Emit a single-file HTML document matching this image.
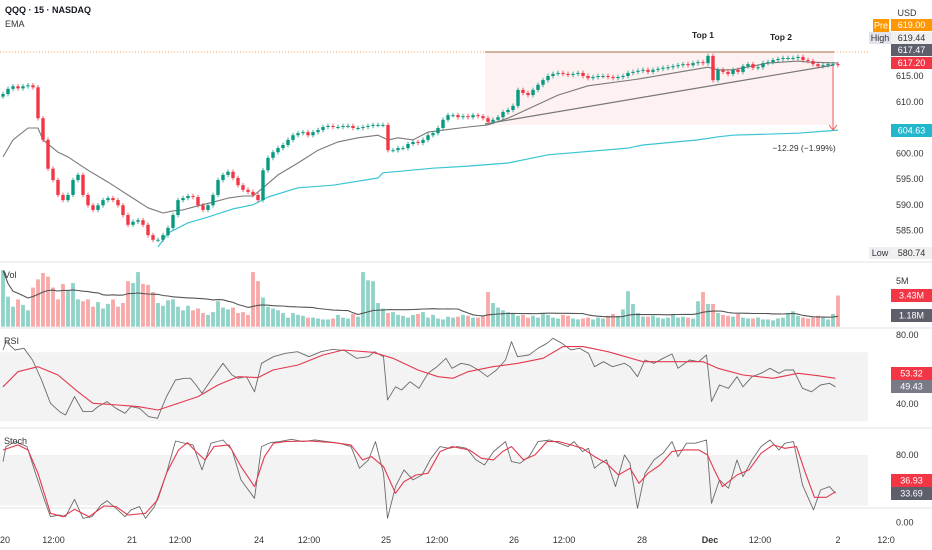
<!DOCTYPE html>
<html><head><meta charset="utf-8"><style>
body{margin:0;background:#fff;}
svg{display:block;font-family:"Liberation Sans",sans-serif;}
</style></head><body>
<svg id="chart" width="932" height="550" viewBox="0 0 932 550" xmlns="http://www.w3.org/2000/svg">
<g id="bg"></g>
<g id="price"></g>
<g id="vol"></g>
<g id="rsi"></g>
<g id="stoch"></g>
<g id="axis"></g>
</svg>
<script>
const closes=[611.5,612.5,613.0,612.6,613.0,613.2,612.8,
606.8,602.6,597.0,594.8,591.9,590.9,591.9,594.8,595.8,591.9,589.9,589.0,589.9,590.9,591.3,590.9,589.9,588.0,586.1,586.7,587.0,586.1,584.1,583.2,583.2,584.1,585.5,588.0,590.9,591.3,591.7,591.5,589.9,589.0,589.9,591.9,594.8,595.8,596.4,595.2,593.8,592.9,592.5,591.9,590.9,596.7,599.1,600.2,601.0,601.6,602.6,603.5,603.9,604.1,603.5,604.1,604.5,605.1,605.3,605.1,605.1,605.3,605.3,604.9,604.9,605.1,605.3,605.5,605.5,605.5,600.6,600.6,601.0,601.0,601.8,602.2,602.0,602.6,603.5,603.9,604.9,606.5,607.4,607.4,607.0,607.2,607.0,607.4,607.2,606.8,606.1,606.5,607.0,608.0,608.4,609.2,612.3,611.7,611.3,612.3,613.3,614.2,615.0,615.4,615.6,615.4,615.2,615.4,615.6,615.0,614.6,614.8,615.0,615.0,614.8,614.6,614.8,615.0,615.6,615.8,616.0,616.2,615.8,616.2,616.4,616.6,616.7,616.9,617.1,617.3,617.1,617.5,617.7,617.5,618.9,614.2,616.2,615.8,615.4,616.2,615.8,616.9,617.3,616.6,616.7,617.5,617.7,618.1,618.3,618.5,618.5,618.5,618.7,618.1,617.9,617.3,616.9,617.1,617.3,617.3,617.1];
const volumes=[6.2,3.3,2.2,3.0,2.4,1.8,4.3,5.2,5.9,5.5,
4.3,3.0,4.7,4.0,4.8,3.0,2.8,3.0,2.2,2.7,
2.0,2.5,3.0,2.2,2.6,5.0,4.8,6.0,4.7,4.6,
3.8,2.6,2.3,2.9,3.0,2.2,1.8,2.3,1.8,2.0,
1.5,1.3,1.6,2.8,2.1,1.9,2.1,1.5,1.6,1.3,
6.0,5.0,3.2,2.2,2.0,1.8,1.5,1.0,1.5,1.3,
1.2,1.0,1.0,0.9,0.8,0.8,0.9,1.3,1.0,0.9,
1.4,1.1,6.0,5.1,5.0,2.6,2.0,1.5,1.6,1.3,
1.2,1.0,1.3,1.4,1.6,1.0,1.3,0.9,0.8,1.1,
1.0,1.1,1.3,1.2,1.0,1.0,1.2,3.8,2.6,2.1,
1.8,1.6,1.4,1.2,1.3,1.0,1.2,1.0,1.5,1.3,
1.0,0.9,1.3,1.2,0.9,0.8,0.9,1.0,0.8,1.0,
0.9,1.2,1.4,1.2,1.9,3.9,2.5,1.5,1.1,1.1,
1.2,1.0,0.9,1.0,1.3,1.0,1.1,1.0,0.9,2.8,
3.8,2.5,2.5,1.5,1.3,1.2,1.1,1.4,1.0,0.9,
0.9,1.0,0.8,0.8,0.7,0.9,1.0,1.5,1.7,1.2,
1.0,0.9,1.0,1.2,1.0,0.8,1.4,3.43];
const emaFastIdx=[0,2,5,7,8,11,13,17,21,25,29,32,34,36,39,42,45,48,50,52,55,59,63,67,71,75,77,79,82,85,93,97,101,111,117,127,141,143,146,153,159,161,167];
const emaFastVals=[599.3,602.6,604.9,604.9,602.6,600.2,599.3,596.7,594.4,591.9,589.4,588.4,588.8,589.0,589.8,590.5,591.3,591.7,591.7,593.3,595.8,598.1,600.6,602.2,603.0,603.5,602.6,603.0,602.6,604.1,605.1,605.5,606.8,611.3,613.1,614.4,616.7,616.2,616.2,617.5,617.9,617.7,617.5];
const emaSlowIdx=[31,33,37,41,46,50,53,59,66,75,76,86,93,101,109,125,128,139,143,146,159,167];
const emaSlowVals=[581.8,584.5,586.5,587.6,589.2,590.0,591.5,593.3,593.8,595.2,596.2,597.1,597.5,598.1,599.7,601.0,601.6,602.6,603.2,603.5,603.9,604.5];
const rsiIdx=[0,0.6,2.4,4.2,5.9,7.7,9.5,11.3,12.5,14.3,16.0,17.8,19.0,20.8,22.6,24.4,25.6,27.3,29.1,30.9,32.7,34.5,36.3,37.5,38.6,39.8,41.6,44.0,45.8,47.0,48.7,50.3,51.7,54.1,56.5,58.9,61.2,63.6,66.0,68.4,70.7,73.1,74.3,76.1,76.9,78.5,79.7,81.4,83.2,85.0,86.8,88.6,89.8,91.6,93.3,95.1,96.9,98.7,100.5,101.7,102.9,105.2,107.0,108.8,110.0,111.8,113.6,115.3,117.1,118.3,120.1,121.9,124.3,125.4,126.9,128.4,130.2,132.0,133.8,135.0,137.3,139.1,140.7,141.7,143.3,145.1,146.8,148.0,149.8,151.6,153.4,155.2,156.4,158.1,159.9,161.7,163.5,165.3,166.5];
const rsiVals=[71.3,76.1,71.3,72.3,65.5,53.9,40.4,35.6,33.6,44.3,35.6,35.6,38.5,41.4,37.5,34.6,38.5,37.5,32.7,31.7,44.3,53.9,54.9,54.9,51.0,46.2,53.9,63.6,56.8,54.9,55.8,47.1,63.6,67.4,69.4,70.3,67.4,70.3,71.7,70.9,66.5,67.4,70.3,67.4,42.3,50.0,48.1,52.9,49.1,57.8,61.6,66.5,60.7,63.6,62.6,59.7,55.8,59.7,65.5,76.1,67.4,68.4,72.3,75.2,78.1,75.2,71.3,72.3,69.4,61.6,64.5,61.6,63.6,61.6,55.8,65.5,63.6,66.5,69.0,60.7,65.5,64.5,68.4,41.4,51.0,49.1,55.8,50.0,55.8,57.8,60.7,57.8,59.7,59.7,49.1,47.1,51.0,52.0,50.0];
const rsiMaIdx=[0,3,7,11,15,18,23,27,31,34,39,43,47,51,54,59,64,68,74,78,83,87,90,93,98,103,108,112,116,121,128,134,140,143,148,154,159,163,166.5];
const rsiMaVals=[50.0,58.7,61.6,56.8,47.1,40.4,39.4,38.5,36.5,39.4,44.3,51.0,55.8,55.3,59.7,62.6,68.4,71.3,70.0,66.5,59.7,55.8,54.9,58.7,61.6,63.6,66.5,73.3,73.3,70.3,64.5,64.5,64.5,60.7,56.8,54.9,57.8,56.4,54.9];
const stochIdx=[0,0.6,2.4,4.8,6.5,8.3,9.5,11.3,12.5,14.3,16.0,17.8,19.6,20.8,22.6,24.4,25.6,27.3,28.5,30.3,32.7,34.5,36.3,38.0,39.8,41.6,44.0,45.8,47.6,50.3,51.7,53.5,55.3,57.7,60.0,62.4,64.8,67.2,69.6,71.3,73.1,74.5,76.1,76.9,78.5,80.2,82.0,83.8,85.6,87.4,89.2,90.9,92.7,94.6,96.3,98.1,100.5,101.7,103.4,105.2,107.0,109.4,111.2,113.0,114.2,115.9,117.1,118.3,119.5,120.7,122.5,124.3,125.4,126.9,128.4,130.2,132.0,133.8,135.0,136.7,138.5,140.7,141.7,143.3,145.1,146.8,148.0,149.8,151.6,153.4,155.2,156.4,158.1,159.9,162.1,163.5,165.3,166.5];
const stochVals=[72.1,89.9,95.8,89.9,58.2,26.5,6.7,8.7,6.7,27.3,4.8,6.7,20.6,25.7,16.6,6.7,14.7,18.6,4.8,18.6,58.2,96.6,93.9,91.9,62.2,93.9,97.8,85.9,50.3,28.5,89.9,94.7,95.8,98.6,95.8,97.8,95.8,93.9,89.9,64.2,74.1,95.8,58.2,4.8,42.4,62.2,50.3,56.2,76.0,89.9,87.9,89.9,87.9,74.1,68.1,84.0,95.8,72.1,70.1,78.0,95.8,97.8,93.9,89.9,95.8,84.0,87.9,64.2,70.1,74.1,42.4,80.0,70.1,16.6,58.2,74.1,82.0,95.8,78.0,93.9,93.9,97.8,22.6,50.3,40.4,74.1,54.3,74.1,89.9,97.8,85.9,93.9,95.8,44.4,14.7,38.4,42.4,34.5];
const stochMaIdx=[0,3,5,7,9.5,12,14.3,17.2,20.2,22.6,25,28.5,30.9,32.7,35.1,36.9,38.6,40.4,42.2,45.2,47.6,50.3,52.3,54.1,56.5,61.2,66,69.6,71.9,73.7,76.1,78.5,80.2,82.6,85,87.4,89.8,93.3,95.7,98.1,99.9,101.7,104.1,106.4,108.8,111.2,113.6,115.9,118.3,120.7,123.1,125.4,127.2,129,131.4,133.8,136.2,139.1,140.9,142.1,143.9,146.8,149.2,151.6,154,156.4,158.7,160.5,162.3,164.7,166.5];
const stochMaVals=[85.9,91.9,85.9,58.2,10.7,6.7,15.4,6.7,19.4,18.6,8.7,10.7,26.5,58.2,85.9,94.7,84.0,74.1,89.9,91.9,66.1,42.4,78.0,93.9,95.8,96.6,94.7,91.9,74.1,78.0,66.1,34.5,48.3,56.2,58.2,84.0,89.9,85.9,76.0,74.1,84.0,89.9,74.1,80.0,95.8,95.8,91.9,87.9,78.0,70.1,56.2,64.2,46.3,58.2,68.1,84.0,86.0,86.0,80.0,64.2,42.4,56.2,62.2,82.0,91.9,87.9,89.9,58.2,29.7,29.7,36.4];
const timeLabels=["20","12:00","21","12:00","24","12:00","25","12:00","26","12:00","28","Dec","12:00","2","12:0"];
const timeLabelIdx=[0.4,10.1,25.8,35.4,51.2,61.2,76.6,86.8,102.2,112.2,127.8,141.4,151.4,167,176.6];
const priceTicks=[615,610,600,595,590,585];
const volTicks=["5M"];
const rsiTicks=[80,40];
const stochTicks=[80,0];

const NS="http://www.w3.org/2000/svg";
function mk(parent,tag,attrs,text){const e=document.createElementNS(NS,tag);for(const k in attrs)e.setAttribute(k,attrs[k]);if(text!==undefined)e.textContent=text;document.getElementById(parent).appendChild(e);return e;}
const xi=i=>3+i*5;
const py=p=>76+(615-p)*5.15;
const vy=v=>326.7-v*9.1;
const ry=r=>335+(80-r)*1.725;
const sy=s=>522.3-s*0.842;
const GREEN="#089981",RED="#f23645";

let e;
e=mk('bg','rect',{x:0,y:ry(70),width:868,height:ry(30)-ry(70),fill:"#f3f3f3"});

e=mk('bg','rect',{x:0,y:sy(80),width:868,height:sy(20)-sy(80),fill:"#f3f3f3"});

[262,328,428,508].forEach(y=>{e=mk('bg','line',{x1:0,x2:932,y1:y,y2:y,stroke:"#e6e6e6","stroke-width":1.2});
});
e=mk('bg','rect',{x:485,y:52,width:349,height:73,fill:"#fdeeee",opacity:0.8});

e=mk('bg','line',{x1:0,x2:868,y1:52,y2:52,stroke:"#f5a65b","stroke-width":1,"stroke-dasharray":"1,2"});

e=mk('bg','line',{x1:485,x2:834,y1:52,y2:52,stroke:"#b98a6a","stroke-width":1.2});

e=mk('bg','line',{x1:485,x2:834,y1:124,y2:65,stroke:"#777","stroke-width":1.2});


function poly(g,idx,vals,yf,color,w){const pts=idx.map((i,k)=>xi(i).toFixed(1)+","+yf(vals[k]).toFixed(1)).join(" ");
return mk(g,'polyline',{points:pts,fill:"none",stroke:color,"stroke-width":w,"stroke-linejoin":"round"});}
e=poly('price',emaFastIdx,emaFastVals,py,"#7a7a7a",1.1);

e=poly('price',emaSlowIdx,emaSlowVals,py,"#3cc4d4",1.2);


for(let i=0;i<closes.length;i++){
 const c=closes[i],o=i>0?closes[i-1]:closes[0]-0.5;const up=c>=o;const col=up?GREEN:RED;
 const hi=Math.max(o,c)+0.45,lo=Math.min(o,c)-0.45;const x=xi(i);
 e=mk('price','line',{x1:x,x2:x,y1:py(hi),y2:py(lo),stroke:col,"stroke-width":0.8});
 
 const top=py(Math.max(o,c)),h=Math.max(1,Math.abs(py(o)-py(c)));
 e=mk('price','rect',{x:x-1.7,y:top,width:3.4,height:h,fill:col});
 
 const v=volumes[i];
 e=mk('vol','rect',{x:x-1.9,y:vy(v),width:3.8,height:326.7-vy(v),fill:up?"#8fd3c8":"#f7a9a7"});
 
}
const vmaIdx=[],vmaVals=[];
for(let i=0;i<volumes.length;i++){const s=volumes.slice(Math.max(0,i-19),i+1);vmaIdx.push(i);vmaVals.push(s.reduce((a,b)=>a+b,0)/s.length);}
e=poly('vol',vmaIdx,vmaVals,vy,"#555",1.1);


e=mk('price','line',{x1:833,x2:833,y1:66,y2:129,stroke:"#f05a5a","stroke-width":1});

e=mk('price','polyline',{points:"829,125 833,130 837,125",fill:"none",stroke:"#f05a5a","stroke-width":1});

e=mk('price','text',{x:804,y:151,"font-size":8.5,fill:"#333","text-anchor":"middle"},"−12.29 (−1.99%)");

e=mk('price','text',{x:703,y:38,"font-size":8.5,"font-weight":"bold",fill:"#222","text-anchor":"middle"},"Top 1");

e=mk('price','text',{x:781,y:40,"font-size":8.5,"font-weight":"bold",fill:"#222","text-anchor":"middle"},"Top 2");


e=poly('rsi',rsiIdx,rsiVals,ry,"#6b6b6b",0.9);

e=poly('rsi',rsiMaIdx,rsiMaVals,ry,"#e2394f",1.1);

e=poly('stoch',stochIdx,stochVals,sy,"#6b6b6b",0.9);

e=poly('stoch',stochMaIdx,stochMaVals,sy,"#e2394f",1.1);


e=mk('axis','text',{x:5,y:13,"font-size":9,"font-weight":"bold",fill:"#131722"},"QQQ · 15 · NASDAQ");

e=mk('axis','text',{x:5,y:27,"font-size":9,fill:"#333"},"EMA");

e=mk('axis','text',{x:4,y:278,"font-size":9,fill:"#333"},"Vol");

e=mk('axis','text',{x:4,y:344,"font-size":9,fill:"#333"},"RSI");

e=mk('axis','text',{x:4,y:444,"font-size":9,fill:"#333"},"Stoch");


const AX=896;
e=mk('axis','text',{x:907,y:16,"font-size":9,fill:"#333","text-anchor":"middle"},"USD");

priceTicks.forEach(p=>{e=mk('axis','text',{x:AX,y:py(p)+3,"font-size":9,fill:"#333"},p.toFixed(2));
});
function tag(x,y,w,h,fill,txt,tc,name){let r=mk('axis','rect',{x:x,y:y,width:w,height:h,fill:fill});

let t=mk('axis','text',{x:x+w/2,y:y+h/2+3.2,"font-size":9,fill:tc,"text-anchor":"middle"},txt);
}
tag(891,19,41,12,"#ff9800","619.00","#fff","pre-price");
tag(873,19,16,13,"#ff9800","Pre","#fff","pre-tag");
tag(869,32,22,12,"#e0e3eb","High","#333","high-tag");
tag(891,32,41,12,"#f0f0f0","619.44","#333","high-price");
tag(891,44,41,12,"#5d606b","617.47","#fff","last-ema-price");
tag(891,57,41,12,RED,"617.20","#fff","last-price");
tag(891,124,41,13,"#22b7cc","604.63","#fff","ema-slow-price");
tag(869,247,22,12,"#eceef2","Low","#333","low-tag");
tag(891,247,41,12,"#f0f0f0","580.74","#333","low-price");
e=mk('axis','text',{x:896,y:284,"font-size":9,fill:"#333"},volTicks[0]);

tag(891,289,41,13,RED,"3.43M","#fff","vol-last");
tag(891,309,41,13,"#5d606b","1.18M","#fff","vol-ma-last");
rsiTicks.forEach(r=>{e=mk('axis','text',{x:896,y:ry(r)+3,"font-size":9,fill:"#333"},r.toFixed(2));
});
tag(891,367,41,13,RED,"53.32","#fff","rsi-ma-last");
tag(891,380,41,13,"#787b86","49.43","#fff","rsi-last");
stochTicks.forEach(s=>{e=mk('axis','text',{x:896,y:sy(s)+3,"font-size":9,fill:"#333"},s.toFixed(2));
});
tag(891,474,41,13,RED,"36.93","#fff","stoch-d-last");
tag(891,487,41,13,"#5d606b","33.69","#fff","stoch-k-last");
timeLabels.forEach((l,k)=>{e=mk('axis','text',{x:xi(timeLabelIdx[k]),y:543,"font-size":9,fill:"#333","text-anchor":"middle","font-weight":l==="Dec"?"bold":"normal"},l);
});
</script>
</body></html>
